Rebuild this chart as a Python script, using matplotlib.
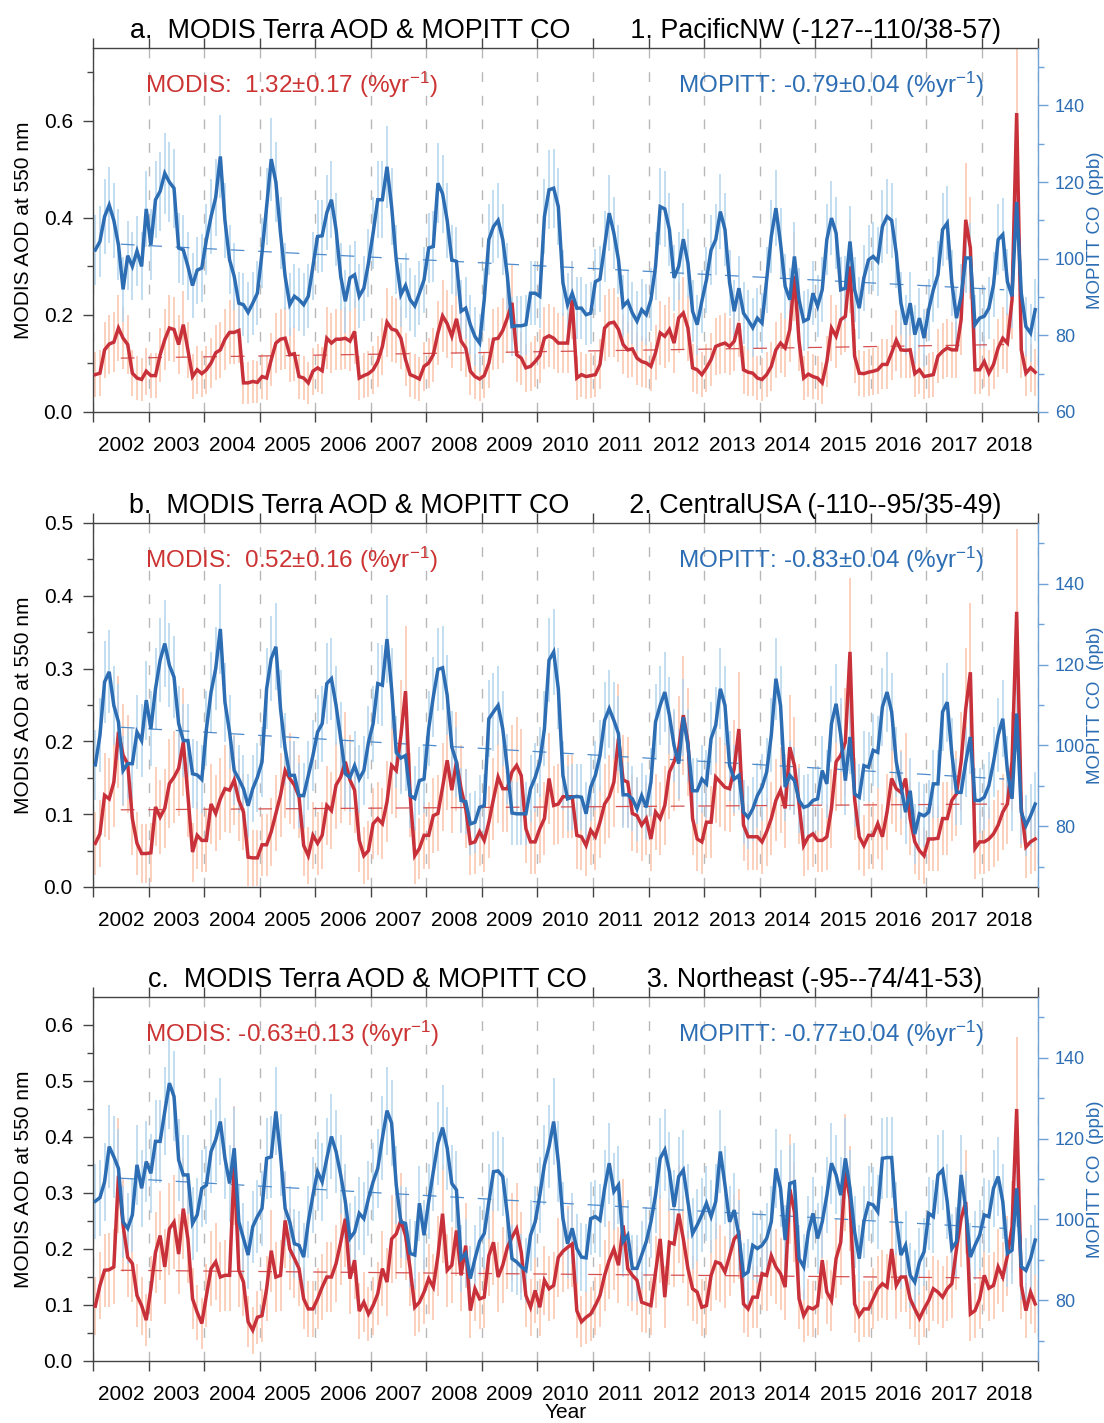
import numpy as np
import matplotlib
matplotlib.use("Agg")
import matplotlib.pyplot as plt
from matplotlib.ticker import FixedLocator, FormatStrFormatter, NullFormatter

plt.rcParams['font.family'] = ['Liberation Sans', 'DejaVu Sans']
plt.rcParams['mathtext.fontset'] = 'custom'
plt.rcParams['mathtext.rm'] = 'Liberation Sans'
plt.rcParams['mathtext.it'] = 'Liberation Sans:italic'
plt.rcParams['mathtext.bf'] = 'Liberation Sans:bold'

# monthly means Jan 2002 .. Dec 2018 (one row per year)
aod_pnw = [
    0.077, 0.080, 0.128, 0.140, 0.144, 0.173, 0.152, 0.139, 0.080, 0.070, 0.067, 0.084,
    0.075, 0.075, 0.118, 0.149, 0.173, 0.170, 0.139, 0.180, 0.128, 0.073, 0.087, 0.079,
    0.087, 0.101, 0.122, 0.128, 0.150, 0.164, 0.164, 0.168, 0.060, 0.060, 0.063, 0.061,
    0.073, 0.070, 0.108, 0.142, 0.150, 0.152, 0.118, 0.120, 0.073, 0.070, 0.060, 0.084,
    0.091, 0.085, 0.152, 0.142, 0.150, 0.150, 0.152, 0.146, 0.166, 0.070, 0.075, 0.079,
    0.087, 0.104, 0.135, 0.185, 0.171, 0.168, 0.152, 0.108, 0.077, 0.073, 0.068, 0.094,
    0.101, 0.118, 0.163, 0.198, 0.182, 0.156, 0.192, 0.146, 0.132, 0.084, 0.073, 0.068,
    0.075, 0.101, 0.150, 0.152, 0.168, 0.194, 0.225, 0.118, 0.111, 0.091, 0.094, 0.104,
    0.116, 0.152, 0.157, 0.152, 0.142, 0.142, 0.142, 0.231, 0.070, 0.077, 0.073, 0.075,
    0.077, 0.098, 0.173, 0.183, 0.185, 0.170, 0.139, 0.128, 0.130, 0.111, 0.104, 0.101,
    0.094, 0.122, 0.163, 0.156, 0.170, 0.142, 0.194, 0.204, 0.173, 0.091, 0.087, 0.077,
    0.091, 0.108, 0.135, 0.139, 0.142, 0.135, 0.146, 0.183, 0.087, 0.082, 0.080, 0.070,
    0.067, 0.077, 0.094, 0.128, 0.142, 0.132, 0.170, 0.280, 0.146, 0.070, 0.078, 0.073,
    0.070, 0.060, 0.104, 0.173, 0.156, 0.190, 0.197, 0.300, 0.115, 0.080, 0.079, 0.082,
    0.084, 0.087, 0.098, 0.098, 0.122, 0.148, 0.128, 0.127, 0.128, 0.079, 0.087, 0.073,
    0.075, 0.077, 0.115, 0.125, 0.132, 0.128, 0.128, 0.190, 0.396, 0.338, 0.087, 0.087,
    0.104, 0.080, 0.098, 0.132, 0.152, 0.142, 0.231, 0.616, 0.128, 0.080, 0.091, 0.082,
]
co_pnw = [
    102.3, 104.5, 111.0, 114.0, 110.0, 103.6, 92.0, 100.8, 98.0, 102.0, 98.0, 113.0,
    103.6, 115.4, 117.6, 122.3, 120.0, 118.4, 102.8, 102.3, 98.0, 93.0, 97.0, 97.6,
    105.0, 111.0, 116.0, 126.7, 110.0, 99.7, 95.4, 88.4, 88.0, 86.0, 88.4, 91.0,
    101.5, 113.6, 126.0, 120.0, 106.7, 95.4, 88.0, 90.2, 89.3, 88.0, 90.2, 98.0,
    105.8, 106.0, 112.0, 115.4, 107.6, 95.4, 88.9, 95.0, 95.8, 90.2, 92.3, 98.9,
    106.7, 115.4, 115.4, 124.0, 113.6, 99.7, 90.6, 93.0, 89.3, 87.7, 91.0, 94.5,
    102.8, 103.2, 119.7, 117.0, 110.0, 99.7, 99.3, 86.3, 87.1, 82.8, 79.7, 78.0,
    89.3, 105.0, 108.4, 110.0, 105.0, 95.4, 82.3, 82.5, 82.5, 82.8, 91.0, 91.0,
    90.2, 111.0, 118.0, 118.4, 113.6, 93.7, 88.0, 91.0, 87.1, 87.1, 85.4, 85.8,
    94.0, 94.7, 103.2, 111.9, 106.7, 99.7, 87.6, 88.9, 85.8, 83.7, 86.7, 85.4,
    89.3, 98.0, 113.6, 113.0, 107.6, 95.0, 98.0, 105.1, 98.9, 86.3, 82.8, 88.9,
    94.5, 102.3, 105.0, 112.3, 107.6, 93.7, 86.3, 92.3, 85.8, 84.0, 82.0, 84.5,
    83.2, 94.5, 105.8, 113.2, 104.0, 92.8, 89.3, 100.6, 89.3, 83.7, 84.3, 91.0,
    87.6, 91.9, 105.0, 110.6, 106.7, 91.9, 92.3, 104.5, 91.9, 87.1, 95.0, 99.7,
    100.6, 99.3, 108.4, 111.0, 110.0, 101.5, 88.4, 82.8, 88.4, 80.2, 84.5, 79.3,
    86.7, 91.9, 95.8, 107.6, 109.3, 93.7, 84.5, 90.2, 100.2, 100.2, 82.8, 84.5,
    85.0, 87.1, 93.2, 105.0, 106.3, 94.0, 90.2, 114.8, 91.0, 82.3, 80.6, 86.7,
]

aod_cus = [
    0.060, 0.073, 0.126, 0.121, 0.144, 0.213, 0.181, 0.169, 0.094, 0.060, 0.046, 0.046,
    0.047, 0.110, 0.096, 0.108, 0.142, 0.151, 0.163, 0.199, 0.126, 0.048, 0.071, 0.064,
    0.064, 0.114, 0.101, 0.121, 0.135, 0.133, 0.147, 0.119, 0.103, 0.041, 0.040, 0.040,
    0.058, 0.058, 0.076, 0.101, 0.126, 0.160, 0.149, 0.140, 0.124, 0.057, 0.043, 0.071,
    0.060, 0.071, 0.112, 0.105, 0.140, 0.151, 0.172, 0.147, 0.133, 0.064, 0.043, 0.050,
    0.087, 0.094, 0.087, 0.117, 0.167, 0.160, 0.208, 0.269, 0.126, 0.043, 0.053, 0.071,
    0.071, 0.098, 0.101, 0.137, 0.174, 0.133, 0.172, 0.135, 0.108, 0.060, 0.062, 0.076,
    0.064, 0.089, 0.121, 0.151, 0.135, 0.135, 0.158, 0.167, 0.153, 0.080, 0.062, 0.062,
    0.080, 0.094, 0.149, 0.112, 0.114, 0.124, 0.124, 0.124, 0.071, 0.069, 0.057, 0.078,
    0.069, 0.089, 0.114, 0.124, 0.144, 0.204, 0.147, 0.144, 0.101, 0.098, 0.085, 0.094,
    0.066, 0.103, 0.094, 0.112, 0.158, 0.172, 0.190, 0.236, 0.199, 0.094, 0.066, 0.062,
    0.089, 0.089, 0.151, 0.144, 0.137, 0.135, 0.163, 0.217, 0.085, 0.069, 0.069, 0.069,
    0.062, 0.076, 0.094, 0.119, 0.133, 0.108, 0.192, 0.167, 0.114, 0.057, 0.069, 0.073,
    0.064, 0.064, 0.069, 0.108, 0.172, 0.181, 0.199, 0.323, 0.121, 0.069, 0.057, 0.071,
    0.071, 0.087, 0.069, 0.103, 0.149, 0.135, 0.130, 0.149, 0.094, 0.062, 0.050, 0.043,
    0.066, 0.066, 0.067, 0.094, 0.094, 0.119, 0.128, 0.172, 0.245, 0.295, 0.053, 0.062,
    0.062, 0.066, 0.073, 0.085, 0.103, 0.114, 0.172, 0.378, 0.108, 0.055, 0.062, 0.066,
]
co_cus = [
    95.2, 102.5, 115.7, 118.2, 109.9, 105.8, 93.8, 95.5, 95.5, 103.3, 101.2, 111.2,
    104.1, 114.0, 121.1, 125.2, 119.8, 116.9, 105.4, 101.2, 101.2, 93.0, 92.7, 91.6,
    104.1, 113.2, 119.0, 128.8, 110.7, 103.3, 93.8, 91.7, 89.3, 85.1, 89.3, 92.1,
    95.9, 114.0, 121.5, 124.4, 109.1, 99.2, 92.6, 92.6, 87.6, 87.6, 92.6, 97.5,
    103.3, 105.4, 115.3, 116.5, 109.9, 101.7, 93.0, 92.1, 95.0, 91.7, 93.8, 100.8,
    105.4, 115.3, 114.9, 126.3, 114.0, 98.3, 96.9, 97.5, 87.6, 86.9, 91.3, 91.7,
    104.1, 112.0, 118.8, 119.2, 112.4, 99.6, 95.9, 86.4, 86.1, 80.6, 81.0, 84.7,
    85.1, 106.6, 108.3, 109.9, 104.1, 94.2, 83.3, 83.1, 83.1, 83.1, 89.3, 92.1,
    95.9, 104.1, 121.1, 123.1, 114.0, 92.6, 86.8, 87.2, 87.4, 87.2, 83.1, 89.7,
    92.6, 97.5, 106.2, 109.1, 106.2, 102.9, 87.8, 87.8, 86.8, 84.3, 87.6, 84.7,
    90.9, 105.8, 109.9, 113.2, 107.4, 100.0, 95.5, 107.0, 100.0, 88.8, 88.8, 91.7,
    90.5, 101.7, 105.0, 114.0, 109.9, 95.0, 91.7, 92.6, 83.5, 82.2, 84.3, 87.6,
    89.7, 93.4, 102.5, 116.5, 109.9, 89.7, 92.6, 91.3, 86.4, 84.7, 85.1, 86.4,
    86.8, 93.8, 90.5, 105.4, 110.3, 102.5, 91.3, 102.1, 88.0, 87.2, 95.0, 94.6,
    98.8, 98.3, 109.5, 113.2, 108.3, 95.9, 90.1, 83.5, 88.8, 78.1, 83.1, 82.6,
    83.5, 90.5, 90.5, 108.3, 110.7, 97.9, 88.4, 88.4, 95.9, 102.1, 86.4, 86.4,
    87.2, 90.1, 95.9, 102.5, 106.6, 93.8, 86.8, 107.9, 83.5, 80.2, 82.6, 85.5,
]

aod_ne = [
    0.098, 0.135, 0.162, 0.163, 0.168, 0.331, 0.242, 0.185, 0.174, 0.117, 0.099, 0.073,
    0.129, 0.194, 0.224, 0.168, 0.236, 0.248, 0.191, 0.272, 0.218, 0.111, 0.087, 0.067,
    0.117, 0.165, 0.177, 0.150, 0.153, 0.153, 0.349, 0.162, 0.141, 0.070, 0.055, 0.078,
    0.081, 0.129, 0.197, 0.150, 0.153, 0.251, 0.200, 0.183, 0.165, 0.111, 0.093, 0.093,
    0.111, 0.132, 0.150, 0.150, 0.174, 0.212, 0.254, 0.147, 0.180, 0.089, 0.105, 0.084,
    0.099, 0.120, 0.165, 0.141, 0.218, 0.227, 0.251, 0.224, 0.165, 0.096, 0.105, 0.123,
    0.147, 0.132, 0.188, 0.263, 0.162, 0.171, 0.233, 0.153, 0.206, 0.090, 0.129, 0.111,
    0.114, 0.188, 0.212, 0.150, 0.171, 0.203, 0.221, 0.236, 0.194, 0.117, 0.096, 0.126,
    0.096, 0.144, 0.129, 0.135, 0.185, 0.196, 0.203, 0.209, 0.090, 0.070, 0.078, 0.084,
    0.099, 0.117, 0.153, 0.180, 0.200, 0.171, 0.242, 0.165, 0.153, 0.144, 0.105, 0.102,
    0.099, 0.159, 0.218, 0.114, 0.212, 0.209, 0.263, 0.218, 0.165, 0.129, 0.123, 0.096,
    0.099, 0.153, 0.177, 0.174, 0.159, 0.188, 0.218, 0.227, 0.102, 0.093, 0.114, 0.114,
    0.156, 0.153, 0.188, 0.168, 0.156, 0.132, 0.307, 0.266, 0.111, 0.081, 0.096, 0.093,
    0.099, 0.180, 0.123, 0.108, 0.183, 0.212, 0.337, 0.290, 0.102, 0.081, 0.093, 0.093,
    0.111, 0.129, 0.138, 0.132, 0.200, 0.135, 0.150, 0.150, 0.111, 0.093, 0.076, 0.093,
    0.108, 0.129, 0.123, 0.114, 0.129, 0.138, 0.200, 0.254, 0.284, 0.084, 0.090, 0.111,
    0.153, 0.130, 0.135, 0.168, 0.150, 0.188, 0.239, 0.450, 0.135, 0.090, 0.123, 0.102,
]
co_ne = [
    104.5, 105.4, 109.3, 118.0, 115.5, 112.6, 99.4, 97.8, 101.1, 113.5, 107.7, 114.3,
    111.4, 119.3, 119.3, 126.7, 133.7, 130.4, 114.7, 111.0, 111.0, 99.0, 101.1, 107.7,
    108.5, 116.8, 119.7, 124.2, 115.1, 108.9, 117.6, 99.4, 95.3, 91.2, 98.2, 100.7,
    102.7, 115.1, 115.5, 126.7, 116.0, 102.7, 99.4, 94.0, 93.6, 90.7, 99.4, 106.0,
    111.8, 109.3, 115.1, 120.5, 116.8, 111.0, 104.4, 95.3, 96.9, 101.5, 100.2, 105.2,
    109.3, 112.6, 120.1, 126.9, 123.8, 108.5, 99.4, 99.0, 91.6, 91.2, 104.0, 96.1,
    104.4, 111.8, 118.8, 122.7, 117.6, 108.9, 107.3, 90.3, 91.6, 85.4, 90.3, 94.6,
    96.5, 104.4, 111.8, 112.0, 110.6, 101.1, 90.3, 89.5, 88.3, 87.4, 96.1, 99.4,
    106.0, 113.5, 118.0, 124.2, 114.3, 100.2, 94.0, 97.8, 92.8, 90.7, 90.5, 100.2,
    100.7, 99.8, 107.7, 113.9, 106.9, 108.5, 94.5, 96.1, 87.9, 87.9, 91.2, 94.5,
    99.4, 106.0, 115.1, 117.2, 111.8, 103.1, 110.6, 112.2, 104.4, 96.5, 98.6, 101.1,
    104.0, 100.7, 104.4, 116.8, 108.5, 99.4, 102.3, 96.1, 86.2, 87.0, 93.6, 92.8,
    93.6, 95.3, 99.4, 112.6, 107.7, 94.9, 108.9, 109.3, 90.3, 88.3, 96.9, 101.5,
    95.3, 99.4, 106.0, 113.9, 111.0, 106.0, 115.1, 107.7, 96.9, 90.3, 99.4, 104.0,
    103.6, 101.9, 115.1, 115.3, 115.3, 100.2, 91.2, 93.6, 86.2, 84.5, 89.5, 92.0,
    101.5, 100.7, 111.0, 112.2, 104.4, 92.8, 94.5, 111.0, 102.7, 90.7, 93.6, 96.1,
    101.1, 100.7, 107.7, 110.6, 104.4, 91.6, 92.4, 107.7, 88.3, 87.4, 90.3, 94.9,
]

# linear trend lines (start, end values) over these years
trend_years = [2002.5, 2018.4]
aod_trend_pnw, co_trend_pnw = [0.111, 0.139], [103.8, 91.9]
aod_trend_cus, co_trend_cus = [0.106, 0.114], [104.5, 91.7]
aod_trend_ne, co_trend_ne = [0.162, 0.148], [110.2, 97.8]

# spread of the monthly bars (floor + fraction of the monthly mean)
aod_err_floor, aod_err_frac = 0.03, 0.22
co_err_floor, co_err_frac = 2.0, 0.07

year_labels = list(range(2002, 2019))

titles = ["a.  MODIS Terra AOD & MOPITT CO", "b.  MODIS Terra AOD & MOPITT CO",
          "c.  MODIS Terra AOD & MOPITT CO"]
regions = ["1. PacificNW (-127--110/38-57)", "2. CentralUSA (-110--95/35-49)",
           "3. Northeast (-95--74/41-53)"]
sup = r"$^{-1}$"
modis_txt = ["MODIS:  1.32\u00b10.17 (%yr" + sup + ")",
             "MODIS:  0.52\u00b10.16 (%yr" + sup + ")",
             "MODIS: -0.63\u00b10.13 (%yr" + sup + ")"]
mopitt_txt = ["MOPITT: -0.79\u00b10.04 (%yr" + sup + ")",
              "MOPITT: -0.83\u00b10.04 (%yr" + sup + ")",
              "MOPITT: -0.77\u00b10.04 (%yr" + sup + ")"]

aod_all = [aod_pnw, aod_cus, aod_ne]
co_all = [co_pnw, co_cus, co_ne]
aod_trends = [aod_trend_pnw, aod_trend_cus, aod_trend_ne]
co_trends = [co_trend_pnw, co_trend_cus, co_trend_ne]

aod_lims = [(0, 0.75), (0, 0.5), (0, 0.65)]
aod_major = [[0, 0.2, 0.4, 0.6], np.arange(0, 0.51, 0.1), np.arange(0, 0.61, 0.1)]
aod_minor = [[0.1, 0.3, 0.5, 0.7], np.arange(0.05, 0.5, 0.1), np.arange(0.05, 0.65, 0.1)]
co_lims = [(60, 155), (65, 155), (65, 155)]
co_major = [[60, 80, 100, 120, 140], [80, 100, 120, 140], [80, 100, 120, 140]]
co_minor = [[70, 90, 110, 130, 150]] * 3

red = '#c8303a'
blue = '#2c6db3'
red_light = '#fac3ab'
blue_light = '#b2d3ee'
spine_col = '#444444'
axis_blue = '#6fa3d8'

W, H = 1104, 1423
fig = plt.figure(figsize=(W / 100, H / 100), dpi=100)

ax_left, ax_right = 93, 1037.5
tops = [48, 523, 997]
ph = 364

for k in range(3):
    top = tops[k]
    ax = fig.add_axes([ax_left / W, 1 - (top + ph) / H, (ax_right - ax_left) / W, ph / H])
    ax2 = ax.twinx()
    ax.set_xlim(2002, 2019)
    ax.set_ylim(*aod_lims[k])
    ax2.set_ylim(*co_lims[k])

    aod = np.array(aod_all[k])
    co = np.array(co_all[k])
    t = 2002 + (np.arange(len(aod)) + 0.5) / 12

    aod_e = aod_err_floor + aod_err_frac * aod
    co_e = co_err_floor + co_err_frac * co

    # everything drawn on ax; CO artists use the right axis' data transform
    ax.vlines(t, aod - aod_e, aod + aod_e, color=red_light, lw=1.1, zorder=1)
    ax.vlines(t, co - co_e, co + co_e, color=blue_light, lw=1.1, zorder=1.2,
              transform=ax2.transData)
    ax.plot(trend_years, aod_trends[k], color='#d65050', lw=0.9,
            linestyle=(0, (11, 11)), zorder=2)
    ax.plot(trend_years, co_trends[k], color='#4f8ccc', lw=0.9,
            linestyle=(0, (11, 11)), zorder=2, transform=ax2.transData)
    ax.plot(t, aod, color=red, lw=2.5, zorder=3, solid_joinstyle='miter')
    ax.plot(t, co, color=blue, lw=2.5, zorder=4, solid_joinstyle='miter',
            transform=ax2.transData)

    ax.set_xlim(2002, 2019)
    ax.set_ylim(*aod_lims[k])
    ax2.set_ylim(*co_lims[k])

    # x axis: year boundaries as ticks, labels centred in each year
    ax.xaxis.set_major_locator(FixedLocator(np.arange(2002, 2020)))
    ax.xaxis.set_major_formatter(NullFormatter())
    ax.xaxis.set_minor_locator(FixedLocator(np.array(year_labels) + 0.5))
    ax.set_xticklabels([str(y) for y in year_labels], minor=True)
    ax.tick_params(axis='x', which='major', direction='out', length=7.5, width=1,
                   color=spine_col, top=True, bottom=True)
    ax.tick_params(axis='x', which='minor', length=0, labelsize=15, pad=17)
    ax.grid(axis='x', which='major', color='#b8b8b8', lw=1.0, linestyle=(0, (7, 10)))
    ax.set_axisbelow(True)

    ax.yaxis.set_major_locator(FixedLocator(aod_major[k]))
    ax.yaxis.set_minor_locator(FixedLocator(aod_minor[k]))
    ax.yaxis.set_major_formatter(FormatStrFormatter('%.1f'))
    ax.tick_params(axis='y', which='major', direction='out', length=7.5, width=1,
                   color=spine_col, labelsize=15, pad=7, right=False)
    ax.tick_params(axis='y', which='minor', direction='out', length=4.5, width=1,
                   color=spine_col, right=False)
    ax.set_ylabel('MODIS AOD at 550 nm', fontsize=15)
    ax.yaxis.set_label_coords(-0.064, 0.5)

    ax2.yaxis.set_major_locator(FixedLocator(co_major[k]))
    ax2.yaxis.set_minor_locator(FixedLocator(co_minor[k]))
    ax2.tick_params(axis='y', which='major', direction='out', length=7.5, width=1,
                    color=axis_blue, labelcolor=blue, labelsize=13, pad=5)
    ax2.tick_params(axis='y', which='minor', direction='out', length=4, width=1,
                    color=axis_blue)
    ax2.set_ylabel('MOPITT CO  (ppb)', fontsize=13.5, color=blue)
    ax2.yaxis.set_label_coords(1.0525, 0.5)

    for s in ['left', 'top', 'bottom']:
        ax.spines[s].set_color(spine_col)
        ax.spines[s].set_linewidth(1)
        ax2.spines[s].set_visible(False)
    ax.spines['right'].set_visible(False)
    ax2.spines['right'].set_color(axis_blue)
    ax2.spines['right'].set_linewidth(1)

    ax.text(0.5, 1 + 10 / ph, titles[k] + "        " + regions[k], transform=ax.transAxes,
            ha='center', va='baseline', fontsize=19.4)
    ax.text(0.055, 0.878, modis_txt[k], transform=ax.transAxes, ha='left',
            va='baseline', fontsize=17.5, color='#cc3333')
    ax.text(0.944, 0.878, mopitt_txt[k], transform=ax.transAxes, ha='right',
            va='baseline', fontsize=17.5, color=blue)

    if k == 2:
        ax.text(0.5, -(1413 - 1361) / ph, 'Year', transform=ax.transAxes,
                ha='center', va='center', fontsize=15)

fig.savefig('out.png', dpi=100)
